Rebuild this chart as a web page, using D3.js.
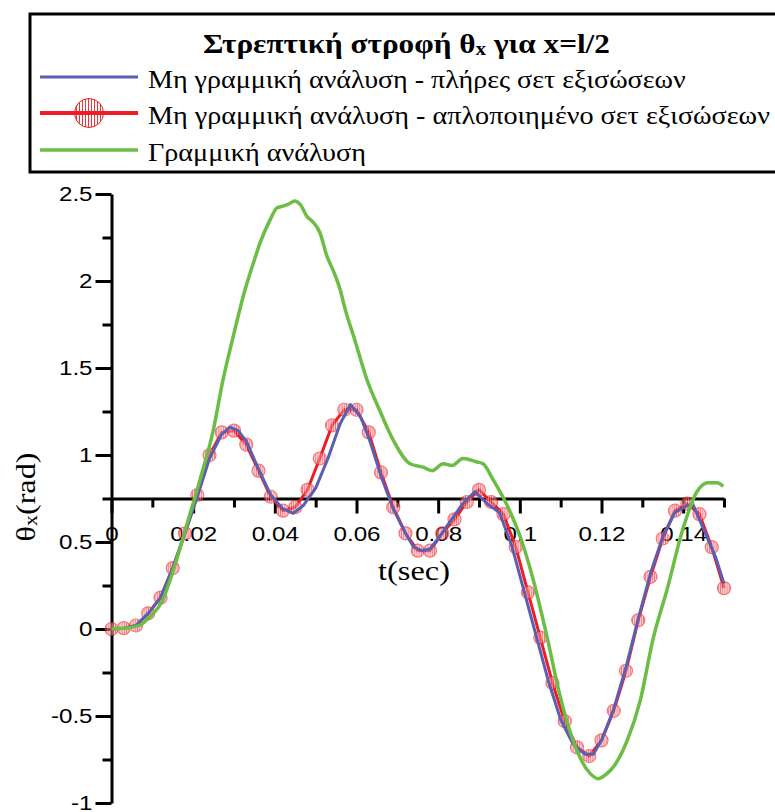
<!DOCTYPE html>
<html><head><meta charset="utf-8">
<script src="https://cdn.jsdelivr.net/npm/d3@7"></script>
<style>body{margin:0;background:#fff}svg{display:block}</style>
</head><body>
<script>
// ---------- DATA ----------
const redT = [0,0.003,0.006,0.009,0.012,0.015,0.018,0.021,0.024,0.027,0.030,0.033,0.036,0.039,0.042,0.045,0.048,0.051,0.054,0.057,0.060,0.063,0.066,0.069,0.072,0.075,0.078,0.081,0.084,0.087,0.090,0.093,0.096,0.099,0.102,0.105,0.108,0.111,0.114,0.117,0.120,0.123,0.126,0.129,0.132,0.135,0.138,0.141,0.144,0.147,0.150];
const redV = [0,0.005,0.02,0.09,0.18,0.35,0.55,0.77,1.00,1.13,1.14,1.06,0.91,0.76,0.68,0.70,0.80,0.98,1.17,1.26,1.26,1.13,0.90,0.70,0.55,0.45,0.45,0.55,0.63,0.73,0.80,0.73,0.66,0.47,0.21,-0.05,-0.31,-0.53,-0.68,-0.73,-0.64,-0.47,-0.24,0.05,0.30,0.52,0.68,0.72,0.66,0.47,0.235];

const blueT = [0,0.003,0.006,0.009,0.012,0.015,0.018,0.021,0.024,0.027,0.029,0.031,0.033,0.036,0.039,0.042,0.0445,0.047,0.050,0.053,0.056,0.0585,0.061,0.063,0.066,0.069,0.072,0.074,0.076,0.078,0.080,0.083,0.086,0.089,0.092,0.095,0.098,0.101,0.104,0.107,0.110,0.113,0.116,0.118,0.120,0.123,0.126,0.129,0.132,0.135,0.138,0.141,0.1425,0.1458,0.148,0.150];
const blueV = [0,0.005,0.02,0.09,0.18,0.35,0.55,0.76,0.98,1.12,1.16,1.14,1.08,0.92,0.77,0.69,0.665,0.71,0.81,0.98,1.18,1.29,1.22,1.10,0.88,0.69,0.55,0.47,0.45,0.46,0.52,0.62,0.72,0.79,0.72,0.67,0.48,0.22,-0.04,-0.30,-0.52,-0.66,-0.72,-0.72,-0.64,-0.46,-0.22,0.06,0.32,0.53,0.67,0.71,0.71,0.53,0.41,0.26];

const greenT = [0,0.0036,0.007,0.0094,0.0124,0.0153,0.0187,0.0217,0.0249,0.0273,0.0298,0.0327,0.0347,0.0364,0.0388,0.0405,0.042,0.0432,0.0449,0.0462,0.0479,0.0493,0.051,0.0528,0.0543,0.056,0.0572,0.0596,0.0626,0.0658,0.0689,0.0731,0.0763,0.0785,0.0812,0.0834,0.0861,0.0895,0.091,0.0934,0.0969,0.1001,0.1032,0.1067,0.1098,0.114,0.1172,0.1192,0.1214,0.1233,0.1263,0.1295,0.1326,0.1361,0.14,0.1434,0.1461,0.1483,0.1498];
const greenV = [0,0.006,0.023,0.07,0.16,0.35,0.62,0.86,1.14,1.43,1.68,1.95,2.10,2.22,2.35,2.42,2.43,2.44,2.46,2.44,2.37,2.34,2.28,2.14,2.06,1.95,1.84,1.66,1.43,1.25,1.09,0.95,0.93,0.91,0.95,0.94,0.98,0.96,0.95,0.86,0.71,0.53,0.29,-0.05,-0.38,-0.70,-0.83,-0.86,-0.83,-0.78,-0.64,-0.41,-0.06,0.23,0.58,0.79,0.84,0.84,0.82];

const xMajorTicks = [0,0.02,0.04,0.06,0.08,0.10,0.12,0.14];
const xMajorLabels = ["0","0.02","0.04","0.06","0.08","0.1","0.12","0.14"];
const xMinorTicks = [0.01,0.03,0.05,0.07,0.09,0.11,0.13,0.15];
const yMajorTicks = [-1,-0.5,0,0.5,1,1.5,2,2.5];
const yMajorLabels = ["-1","-0.5","0","0.5","1","1.5","2","2.5"];
const yMinorTicks = [-0.75,-0.25,0.25,0.75,1.25,1.75,2.25];

const legendNames = ["Μη γραμμική ανάλυση - πλήρες σετ εξισώσεων","Μη γραμμική ανάλυση - απλοποιημένο σετ εξισώσεων","Γραμμική ανάλυση"];
const titleParts = ["Στρεπτική στροφή θ","x"," για x=l/2"];
const yTitleParts = ["θ","x","(rad)"];
const xTitle = "t(sec)";

// ---------- STYLE ----------
const BLUE = "#5b5fb3", RED = "#ee1c24", GREEN = "#6cbd45";
const SERIF = "Liberation Serif, Times New Roman, DejaVu Serif, serif";
const SANS = "Liberation Sans, Arial, sans-serif";
const SX = 1.15; // horizontal stretch of tick labels

const svg = d3.select("body").append("svg").attr("width",775).attr("height",812);
const defs = svg.append("defs");
const pat = defs.append("pattern").attr("id","hatch").attr("patternUnits","userSpaceOnUse")
  .attr("width",2.2).attr("height",6);
pat.append("rect").attr("width",2.2).attr("height",6).attr("fill","#ffd0d0");
pat.append("line").attr("x1",1.1).attr("x2",1.1).attr("y1",0).attr("y2",6)
  .attr("stroke",RED).attr("stroke-width",1);
const pat2 = defs.append("pattern").attr("id","hatchL").attr("patternUnits","userSpaceOnUse")
  .attr("width",3).attr("height",6);
pat2.append("line").attr("x1",1.5).attr("x2",1.5).attr("y1",0).attr("y2",6)
  .attr("stroke",RED).attr("stroke-width",0.9);

const x = d3.scaleLinear().domain([0,0.15]).range([111.5,724]);
const y = d3.scaleLinear().domain([-1,2.5]).range([803,194]);

function fitText(parent, o){
  const g = parent.append("g").attr("transform",`translate(${o.x},${o.y}) rotate(${o.rotate||0})`);
  const t = g.append("text").attr("text-anchor",o.anchor||"start")
    .style("font-family",SERIF).style("font-size",o.size+"px").style("font-weight",o.weight||"normal")
    .attr("fill","#000");
  o.build(t);
  const w = t.node().getBBox().width;
  t.attr("transform",`scale(${o.width/w},1)`);
  return g;
}
function subParts(t, parts, size){
  t.append("tspan").text(parts[0]);
  t.append("tspan").style("font-size",(size*0.68)+"px").attr("dy",2).text(parts[1]);
  t.append("tspan").attr("dy",-2).text(parts[2]);
}

// ---------- LEGEND ----------
svg.append("rect").attr("x",30).attr("y",14).attr("width",770).attr("height",158)
  .attr("fill","#fff").attr("stroke","#000").attr("stroke-width",3);
fitText(svg,{x:406.5,y:53,anchor:"middle",size:27,weight:"bold",width:407,build:t=>subParts(t,titleParts,27)});
const legRows = [{c:BLUE,y:77,w:3},{c:RED,y:113,w:4},{c:GREEN,y:150,w:3.5}];
const legWidths = [538,622,218];
legRows.forEach((r,i)=>{
  svg.append("line").attr("x1",40).attr("x2",138).attr("y1",r.y).attr("y2",r.y)
    .attr("stroke",r.c).attr("stroke-width",r.w);
  fitText(svg,{x:148,y:r.y+11,size:25,width:legWidths[i],build:t=>t.text(legendNames[i])});
});
svg.append("circle").attr("cx",89).attr("cy",113).attr("r",14.5)
  .attr("fill","url(#hatchL)").attr("stroke",RED).attr("stroke-width",1);

// ---------- AXES ----------
const axisStyle = g=>{
  g.selectAll("path,line").attr("stroke","#000").attr("stroke-width",3);
  g.selectAll("text").style("font-family",SANS).style("font-size","21px").attr("fill","#000");
};
const yAxisG = svg.append("g").attr("transform",`translate(${x(0)},0)`);
yAxisG.call(d3.axisLeft(y).tickValues(yMajorTicks).tickFormat((d,i)=>yMajorLabels[i])
  .tickSize(16).tickSizeOuter(0).tickPadding(3)).call(axisStyle);
yAxisG.selectAll(".tick text").attr("x",-19/SX).attr("transform",`scale(${SX},1)`);
yAxisG.append("g").call(d3.axisLeft(y).tickValues(yMinorTicks).tickFormat("").tickSize(9).tickSizeOuter(0))
  .call(g=>g.select(".domain").remove()).call(axisStyle);

const xAxisG = svg.append("g").attr("transform",`translate(0,${y(0.75)})`);
xAxisG.call(d3.axisBottom(x).tickValues(xMajorTicks).tickFormat((d,i)=>xMajorLabels[i])
  .tickSize(15).tickSizeOuter(0).tickPadding(13)).call(axisStyle);
xAxisG.selectAll(".tick text").attr("transform",`scale(${SX},1)`);
xAxisG.append("g").call(d3.axisBottom(x).tickValues(xMinorTicks).tickFormat("").tickSize(9).tickSizeOuter(0))
  .call(g=>g.select(".domain").remove()).call(axisStyle);

// axis titles
fitText(svg,{x:414,y:580,anchor:"middle",size:28,width:72,build:t=>t.text(xTitle)});
fitText(svg,{x:35,y:497,anchor:"middle",rotate:-90,size:28,width:89,build:t=>subParts(t,yTitleParts,28)});

// ---------- SERIES ----------
const line = d3.line().x(d=>x(d[0])).y(d=>y(d[1]));
const smooth = d3.line().x(d=>x(d[0])).y(d=>y(d[1])).curve(d3.curveMonotoneX);
const redData = redT.map((t,i)=>[t,redV[i]]);
const blueData = blueT.map((t,i)=>[t,blueV[i]]);
const greenData = greenT.map((t,i)=>[t,greenV[i]]);

svg.append("path").datum(redData).attr("d",line).attr("fill","none")
  .attr("stroke",RED).attr("stroke-width",3).attr("stroke-linejoin","round");
svg.append("g").selectAll("circle").data(redData).join("circle")
  .attr("cx",d=>x(d[0])).attr("cy",d=>y(d[1])).attr("r",6.5)
  .attr("fill","url(#hatch)").attr("stroke",RED).attr("stroke-width",1.2).attr("opacity",0.6);
svg.append("path").datum(blueData).attr("d",line).attr("fill","none")
  .attr("stroke",BLUE).attr("stroke-width",3).attr("stroke-linejoin","round");
svg.append("path").datum(greenData).attr("d",smooth).attr("fill","none")
  .attr("stroke",GREEN).attr("stroke-width",3.5).attr("stroke-linejoin","round");
</script>
</body></html>
